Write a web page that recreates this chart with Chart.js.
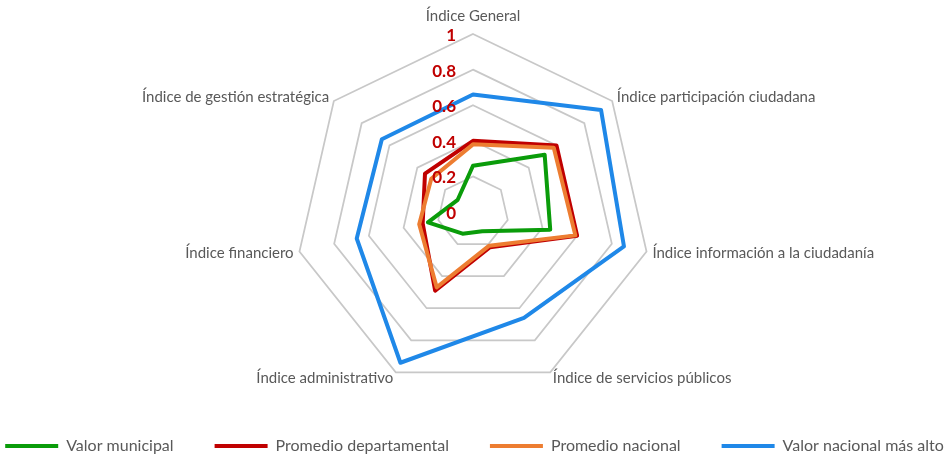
<!DOCTYPE html>
<html><head><meta charset="utf-8">
<script src="https://cdn.jsdelivr.net/npm/chart.js@4.4.1/dist/chart.umd.min.js"></script>
<style>html,body{margin:0;padding:0;background:#fff;}</style>
</head><body>
<canvas id="c" width="949" height="460"></canvas>
<script>
const categories = ['Índice General', 'Índice participación ciudadana', 'Índice información a la ciudadanía', 'Índice de servicios públicos', 'Índice administrativo', 'Índice financiero', 'Índice de gestión estratégica'];
const valorMunicipal = [0.26, 0.515, 0.445, 0.12, 0.135, 0.26, 0.11];
const promedioDepartamental = [0.40, 0.60, 0.60, 0.22, 0.49, 0.29, 0.345];
const promedioNacional = [0.38, 0.58, 0.59, 0.21, 0.47, 0.31, 0.30];
const valorNacionalMasAlto = [0.66, 0.92, 0.87, 0.66, 0.94, 0.67, 0.655];
const seriesNames = ['Valor municipal', 'Promedio departamental', 'Promedio nacional', 'Valor nacional más alto'];
const tickLabels = ['0', '0.2', '0.4', '0.6', '0.8', '1'];

const seriesData = [valorMunicipal, promedioDepartamental, promedioNacional, valorNacionalMasAlto];
const seriesColors = ['#0a9c0a', '#c00000', '#ed7d31', '#1f88e8'];

const labelPlugin = {
  id: 'customLabels',
  afterDatasetsDraw(chart) {
    const s = chart.scales.r;
    const ctx = chart.ctx;
    ctx.save();
    ctx.font = '15px Lato';
    ctx.fillStyle = '#595959';
    categories.forEach((txt, i) => {
      const base = s.getPointPosition(i, s.drawingArea);
      const cx = Math.cos(base.angle);
      let align = 'center', pad = 18;
      if (cx > 0.05) { align = 'left'; pad = 6; }
      else if (cx < -0.05) { align = 'right'; pad = 6; }
      const p = s.getPointPosition(i, s.drawingArea + pad);
      ctx.textAlign = align;
      ctx.textBaseline = 'middle';
      ctx.fillText(txt, p.x, p.y);
    });
    ctx.font = 'bold 17px Lato';
    ctx.fillStyle = '#c00000';
    ctx.textAlign = 'right';
    ctx.textBaseline = 'middle';
    s.ticks.forEach((t, i) => {
      const d = s.getDistanceFromCenterForValue(t.value);
      ctx.fillText(tickLabels[i], s.xCenter - 17, s.yCenter - d + 1.5);
    });
    ctx.restore();
  }
};

new Chart(document.getElementById('c'), {
  type: 'radar',
  data: {
    labels: categories,
    datasets: seriesNames.map((name, i) => ({
      label: name,
      data: seriesData[i],
      borderColor: seriesColors[i],
      backgroundColor: seriesColors[i],
      borderWidth: 4,
      pointRadius: 0,
      pointHoverRadius: 0,
      fill: false,
      borderJoinStyle: 'round',
      borderCapStyle: 'round',
      order: 4 - i,
      clip: false
    }))
  },
  options: {
    responsive: false,
    devicePixelRatio: 1,
    animation: false,
    layout: { padding: { left: -50, right: -50, top: 0, bottom: -4 } },
    plugins: {
      tooltip: { enabled: false },
      legend: {
        position: 'bottom',
        labels: {
          usePointStyle: true,
          pointStyle: 'line',
          pointStyleWidth: 53,
          font: { family: 'Lato', size: 16 },
          color: '#595959',
          padding: 41,
          sort: (a, b) => a.datasetIndex - b.datasetIndex
        }
      }
    },
    scales: {
      r: {
        min: 0,
        max: 1,
        ticks: { stepSize: 0.2, display: false },
        grid: { color: '#c8c8c8', lineWidth: 1.75 },
        angleLines: { display: false },
        pointLabels: { display: false },
        afterFit(scale) {
          scale.xCenter = 473;
          scale.yCenter = 212;
          scale.drawingArea = 178;
        }
      }
    }
  },
  plugins: [labelPlugin]
});
</script>
</body></html>
